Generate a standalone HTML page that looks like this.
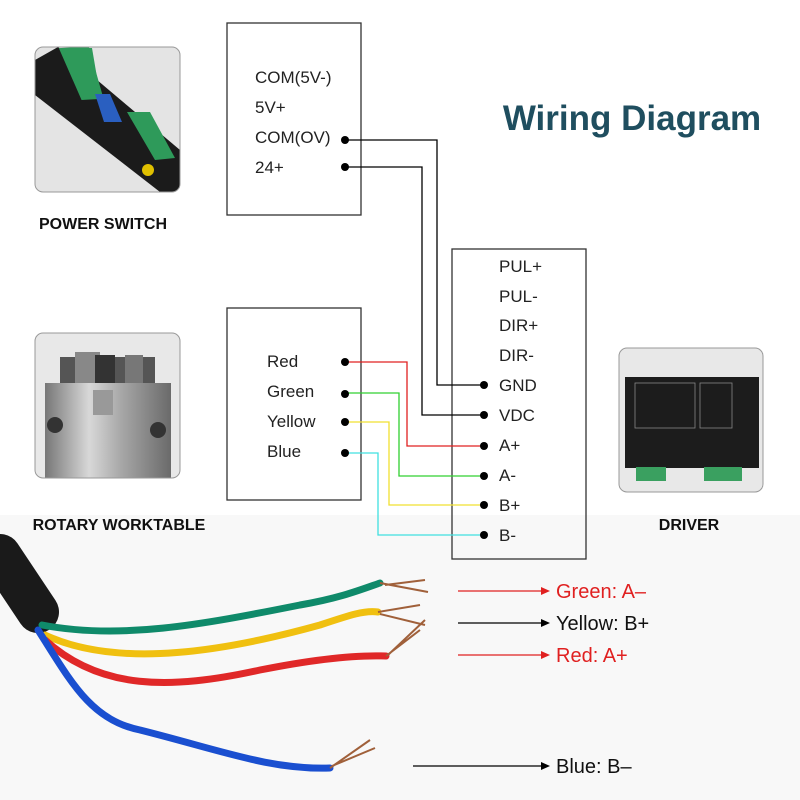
<!DOCTYPE html>
<html><head><style>
body{margin:0;background:#fff}
svg{display:block}
text{font-family:"Liberation Sans",sans-serif}
</style></head><body>
<svg width="800" height="800" viewBox="0 0 800 800" xmlns="http://www.w3.org/2000/svg">
<defs>
<clipPath id="c1"><rect x="35" y="47" width="145" height="145" rx="8"/></clipPath>
<clipPath id="c2"><rect x="35" y="333" width="145" height="145" rx="8"/></clipPath>
<linearGradient id="met" x1="0" x2="1"><stop offset="0" stop-color="#777"/><stop offset="0.35" stop-color="#d8d8d8"/><stop offset="0.6" stop-color="#a8a8a8"/><stop offset="1" stop-color="#6a6a6a"/></linearGradient>
</defs>
<rect x="0" y="0" width="800" height="800" fill="#fff"/>
<rect x="0" y="515" width="800" height="285" fill="#f8f8f8"/>
<!-- power switch photo -->
<g clip-path="url(#c1)">
<rect x="35" y="47" width="145" height="145" fill="#e4e4e4"/>
<polygon points="35,60 58,47 180,150 180,192 160,192 35,95" fill="#1b1b1b"/>
<polygon points="60,47 90,47 102,100 80,100" fill="#2e9a5a" transform="rotate(-3 80 70)"/>
<polygon points="62,48 92,48 100,95 80,95" fill="#2e9a5a"/>
<polygon points="95,94 110,94 122,122 104,122" fill="#2a5fc0"/>
<polygon points="127,112 150,112 175,158 155,160" fill="#2e9a5a"/>
<circle cx="148" cy="170" r="6" fill="#e0c000"/>
</g>
<rect x="35" y="47" width="145" height="145" rx="8" fill="none" stroke="#999"/>
<!-- rotary photo -->
<g clip-path="url(#c2)">
<rect x="35" y="333" width="145" height="145" fill="#e8e8e8"/>
<rect x="60" y="357" width="95" height="30" fill="#555"/>
<rect x="75" y="352" width="25" height="35" fill="#888"/>
<rect x="95" y="355" width="20" height="32" fill="#333"/>
<rect x="125" y="355" width="18" height="32" fill="#777"/>
<rect x="45" y="383" width="126" height="100" fill="url(#met)"/>
<circle cx="55" cy="425" r="8" fill="#333"/>
<circle cx="158" cy="430" r="8" fill="#333"/>
<rect x="93" y="390" width="20" height="25" fill="#999"/>
</g>
<rect x="35" y="333" width="145" height="145" rx="8" fill="none" stroke="#999"/>
<!-- driver photo -->
<rect x="619" y="348" width="144" height="144" rx="8" fill="#e8e8e8" stroke="#999"/>
<rect x="625" y="377" width="134" height="91" fill="#1c1c1c"/>
<rect x="635" y="383" width="60" height="45" fill="none" stroke="#888" stroke-width="0.8"/>
<rect x="700" y="383" width="32" height="45" fill="none" stroke="#888" stroke-width="0.8"/>
<rect x="636" y="467" width="30" height="14" fill="#3aa060"/>
<rect x="704" y="467" width="38" height="14" fill="#3aa060"/>
<text x="103" y="229" font-size="16" font-weight="bold" text-anchor="middle" fill="#111">POWER SWITCH</text>
<text x="119" y="530" font-size="16" font-weight="bold" text-anchor="middle" fill="#111">ROTARY WORKTABLE</text>
<text x="689" y="530" font-size="16" font-weight="bold" text-anchor="middle" fill="#111">DRIVER</text>
<text x="632" y="130" font-size="35" font-weight="bold" text-anchor="middle" fill="#1f4e5f">Wiring Diagram</text>
<!-- boxes -->
<g fill="none" stroke="#333" stroke-width="1.3">
<rect x="227" y="23" width="134" height="192"/>
<rect x="452" y="249" width="134" height="310"/>
<rect x="227" y="308" width="134" height="192"/>
</g>
<g font-size="17" fill="#222">
<text x="255" y="83">COM(5V-)</text><text x="255" y="113">5V+</text>
<text x="255" y="143">COM(OV)</text><text x="255" y="173">24+</text>
<text x="267" y="367">Red</text><text x="267" y="397">Green</text>
<text x="267" y="427">Yellow</text><text x="267" y="457">Blue</text>
<text x="499" y="272">PUL+</text><text x="499" y="302">PUL-</text>
<text x="499" y="331">DIR+</text><text x="499" y="361">DIR-</text>
<text x="499" y="391">GND</text><text x="499" y="421">VDC</text>
<text x="499" y="451">A+</text><text x="499" y="481">A-</text>
<text x="499" y="511">B+</text><text x="499" y="541">B-</text>
</g>
<g fill="none" stroke-width="1.3">
<polyline points="345,140 437,140 437,385 484,385" stroke="#000"/>
<polyline points="345,167 422,167 422,415 484,415" stroke="#000"/>
<polyline points="345,362 407,362 407,446 484,446" stroke="#e02020"/>
<polyline points="345,393 399,393 399,476 484,476" stroke="#30d030"/>
<polyline points="345,422 389,422 389,505 484,505" stroke="#f0e030"/>
<polyline points="345,453 378,453 378,535 484,535" stroke="#40e0e0"/>
</g>
<g fill="#000">
<circle cx="345" cy="140" r="4"/><circle cx="345" cy="167" r="4"/>
<circle cx="345" cy="362" r="4"/><circle cx="345" cy="394" r="4"/>
<circle cx="345" cy="422" r="4"/><circle cx="345" cy="453" r="4"/>
<circle cx="484" cy="385" r="4"/><circle cx="484" cy="415" r="4"/>
<circle cx="484" cy="446" r="4"/><circle cx="484" cy="476" r="4"/>
<circle cx="484" cy="505" r="4"/><circle cx="484" cy="535" r="4"/>
</g>
<!-- cable -->
<path d="M0 555 L38 612" stroke="#1a1a1a" stroke-width="42" stroke-linecap="round"/>
<g fill="none" stroke-width="7" stroke-linecap="round">
<path d="M42 625 C120 640 200 625 300 605 C340 598 360 590 380 583" stroke="#0f8a6a"/>
<path d="M45 635 C120 670 230 650 320 625 C350 615 365 610 378 612" stroke="#f0c010"/>
<path d="M45 640 C100 690 170 690 260 670 C320 658 360 655 386 656" stroke="#e02828"/>
<path d="M38 630 C70 680 90 720 140 730 C220 750 270 770 330 768" stroke="#1a4fd0"/>
</g>
<g stroke="#a0603a" stroke-width="2" fill="none">
<path d="M380 583 L428 592 M385 585 L425 580"/>
<path d="M378 612 L420 605 M380 614 L425 625"/>
<path d="M386 656 L420 630 M388 655 L425 620"/>
<path d="M330 768 L370 740 M332 766 L375 748"/>
</g>
<!-- arrows -->
<g stroke-width="1.3">
<line x1="458" y1="591" x2="546" y2="591" stroke="#e02020"/>
<line x1="458" y1="623" x2="546" y2="623" stroke="#000"/>
<line x1="458" y1="655" x2="546" y2="655" stroke="#e02020"/>
<line x1="413" y1="766" x2="546" y2="766" stroke="#000"/>
</g>
<polygon points="550,591 541,587 541,595" fill="#e02020"/>
<polygon points="550,623 541,619 541,627" fill="#000"/>
<polygon points="550,655 541,651 541,659" fill="#e02020"/>
<polygon points="550,766 541,762 541,770" fill="#000"/>
<g font-size="20">
<text x="556" y="598" fill="#e02020">Green: A–</text>
<text x="556" y="630" fill="#111">Yellow: B+</text>
<text x="556" y="662" fill="#e02020">Red: A+</text>
<text x="556" y="773" fill="#111">Blue: B–</text>
</g>
</svg>
</body></html>
